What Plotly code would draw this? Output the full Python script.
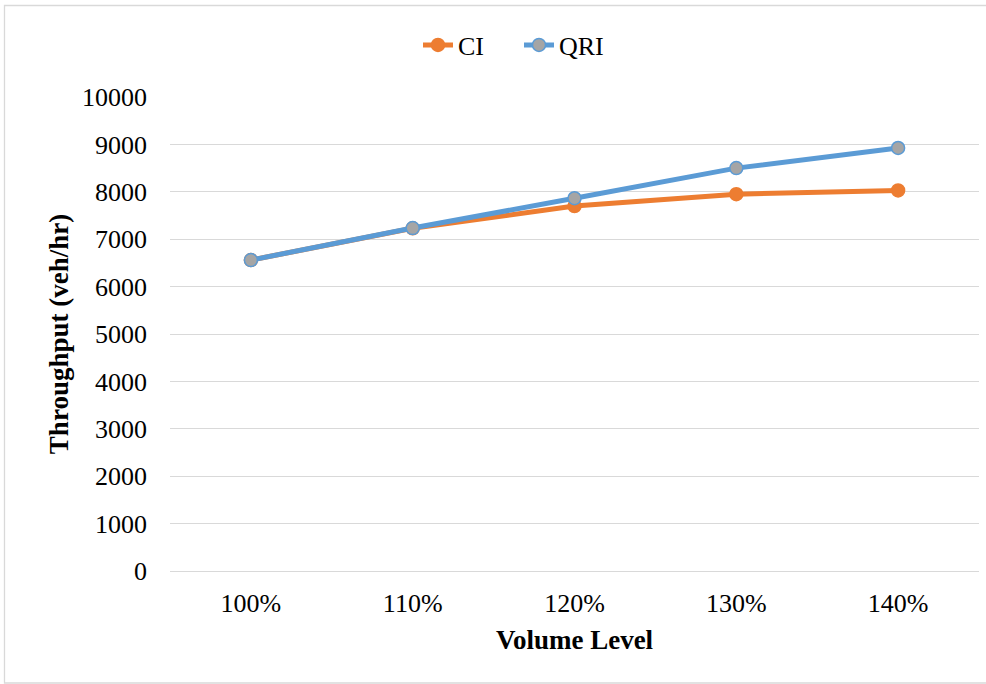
import plotly.graph_objects as go

categories = ["100%", "110%", "120%", "130%", "140%"]
ci_values = [6560, 7230, 7700, 7950, 8030]
qri_values = [6560, 7235, 7865, 8500, 8925]

L, R, T, B = 170, 7, 97, 113
W, H = 986, 684
pw, ph = W - L - R, H - T - B

fig = go.Figure()
fig.add_trace(go.Scatter(
    x=categories, y=ci_values, name="CI", mode="lines+markers",
    line=dict(color="#ED7D31", width=5),
    marker=dict(color="#ED7D31", size=13, line=dict(color="#ED7D31", width=1.5)),
))
fig.add_trace(go.Scatter(
    x=categories, y=qri_values, name="QRI", mode="lines+markers",
    line=dict(color="#5B9BD5", width=5),
    marker=dict(color="#A5A5A5", size=13, line=dict(color="#5B9BD5", width=1.5)),
))

font = "Liberation Serif, Times New Roman, serif"
fig.update_layout(
    width=W, height=H,
    margin=dict(l=L, r=R, t=T, b=B),
    paper_bgcolor="white", plot_bgcolor="white",
    font=dict(family=font, size=26, color="black"),
    showlegend=True,
    legend=dict(orientation="h", x=(519 - L) / pw, xanchor="center", y=(571 - 45) / ph, yanchor="middle",
                font=dict(size=26, family=font), traceorder="normal",
                entrywidth=56, entrywidthmode="pixels"),
    xaxis=dict(
        type="category", range=[-0.5, 4.5], showgrid=False, zeroline=False,
        showline=False, ticks="", ticklabelstandoff=14,
        tickfont=dict(size=26, family=font),
        title=dict(text="<b>Volume Level</b>", font=dict(size=27, family=font), standoff=13),
    ),
    yaxis=dict(
        range=[0, 10000], dtick=1000, tickformat="d", showgrid=True, gridcolor="#D9D9D9", gridwidth=1.3,
        zeroline=True, zerolinecolor="#D9D9D9", zerolinewidth=1.3, showline=False, ticks="",
        ticklabelstandoff=22, tickfont=dict(size=26, family=font),
        title=dict(text="<b>Throughput (veh/hr)</b>", font=dict(size=27, family=font), standoff=5),
    ),
)

fig.add_shape(type="rect", xref="paper", yref="paper",
              x0=(4.5 - L) / pw, x1=(1000 - L) / pw,
              y0=(571 - 683) / ph, y1=(571 - 5.5) / ph,
              line=dict(color="#D9D9D9", width=1.3), fillcolor="rgba(0,0,0,0)", layer="below")

fig.write_html("out.html", config={"displayModeBar": False},
               post_script="document.body.style.margin='0';document.body.style.overflow='hidden';")
